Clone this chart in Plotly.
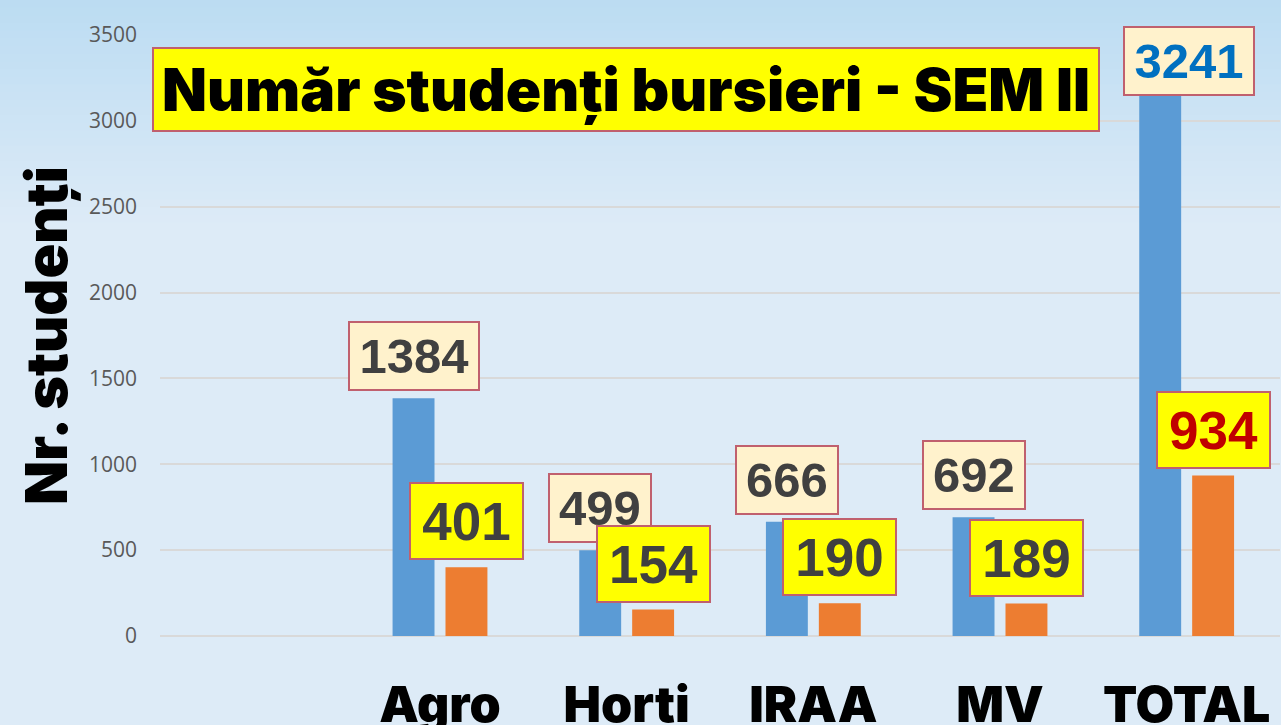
import plotly.graph_objects as go

# ---- data ----
categories = ["Agro", "Horti", "IRAA", "MV", "TOTAL"]
bursieri_total = [1384, 499, 666, 692, 3241]     # blue series
bursieri_sem2 = [401, 154, 190, 189, 934]         # orange series
y_ticks = [0, 500, 1000, 1500, 2000, 2500, 3000, 3500]
title_text = "Număr studenți bursieri - SEM II"
y_title = "Nr. studenți"

# ---- styles ----
W, H = 1281, 725
ML, MR, MT, MB = 160, 1, 35, 89
BLUE = "#5b9bd5"
ORANGE = "#ed7d31"
CREAM = "#fff2cc"
YELLOW = "#ffff00"
BORDER = "#c0606e"
HEAVY = "Arial Black, Inter, Liberation Sans, sans-serif"
BOLD = "Liberation Sans, Arial, sans-serif"

fig = go.Figure()
fig.add_trace(go.Bar(x=categories, y=bursieri_total, marker=dict(color=BLUE, line=dict(width=0)),
                     name="total", hoverinfo="skip"))
fig.add_trace(go.Bar(x=categories, y=bursieri_sem2, marker=dict(color=ORANGE, line=dict(width=0)),
                     name="sem2", hoverinfo="skip"))

# background gradient strips (top region) in paper coords
def py_to_paper(py):
    return (H - MB - py) / (H - MB - MT)

top_c = (0xbc, 0xdc, 0xf2)
bot_c = (0xdd, 0xeb, 0xf7)
n = 30
grad_h = 230
shapes = []
for i in range(n):
    t = i / (n - 1)
    c = tuple(int(round(top_c[k] + (bot_c[k] - top_c[k]) * t)) for k in range(3))
    y0 = i * grad_h / n
    y1 = (i + 1) * grad_h / n + 1
    shapes.append(dict(type="rect", xref="paper", yref="paper", layer="below",
                       x0=-ML / (W - ML - MR), x1=1.01,
                       y0=py_to_paper(y1), y1=py_to_paper(y0),
                       fillcolor="rgb(%d,%d,%d)" % c, line=dict(width=0)))

annotations = []
# title box
annotations.append(dict(text=title_text, xref="paper", yref="paper",
                        x=(626 - ML) / (W - ML - MR), y=py_to_paper(89.5),
                        xanchor="center", yanchor="middle", showarrow=False,
                        font=dict(family=HEAVY, size=58.5, color="black", weight=900),
                        bgcolor=YELLOW, bordercolor=BORDER, borderwidth=2,
                        width=944, height=81, borderpad=0))
# y-axis title
annotations.append(dict(text=y_title, xref="paper", yref="paper",
                        x=(46 - ML) / (W - ML - MR), y=py_to_paper(336),
                        xanchor="center", yanchor="middle", showarrow=False, textangle=-90,
                        font=dict(family=HEAVY, size=57.5, color="black", weight=900)))

# data labels
BAR_OFF = 26.5
for i, (c, v) in enumerate(zip(categories, bursieri_total)):
    is_total = (c == "TOTAL")
    w = 128 if len(str(v)) == 4 else 100
    annotations.append(dict(text="<b>%d</b>" % v, x=c, y=v, xref="x", yref="y",
                            xshift=-BAR_OFF + (29 if is_total else 0),
                            yshift=-17 if is_total else 7,
                            xanchor="center", yanchor="bottom", showarrow=False,
                            font=dict(family=BOLD, size=49, color="#0070c0" if is_total else "#404040"),
                            bgcolor=CREAM, bordercolor=BORDER, borderwidth=2,
                            width=w, height=66, borderpad=0))
for i, (c, v) in enumerate(zip(categories, bursieri_sem2)):
    is_total = (c == "TOTAL")
    annotations.append(dict(text="<b>%d</b>" % v, x=c, y=v, xref="x", yref="y",
                            xshift=BAR_OFF, yshift=7,
                            xanchor="center", yanchor="bottom", showarrow=False,
                            font=dict(family=BOLD, size=53, color="#c00000" if is_total else "#404040"),
                            bgcolor=YELLOW, bordercolor=BORDER, borderwidth=2,
                            width=111, height=74, borderpad=0))

fig.update_layout(
    width=W, height=H,
    margin=dict(l=ML, r=MR, t=MT, b=MB, autoexpand=False),
    paper_bgcolor="#ddebf7",
    plot_bgcolor="rgba(0,0,0,0)",
    barmode="group", bargap=0.433, bargroupgap=0.208,
    showlegend=False,
    shapes=shapes,
    annotations=annotations,
    xaxis=dict(range=[-1.5, 4.5], showgrid=False, zeroline=False, showline=False,
               ticks="", ticklabelstandoff=35, automargin=False,
               tickfont=dict(family=HEAVY, size=50, color="black", weight=900)),
    yaxis=dict(range=[0, 3500], tickvals=y_ticks, showgrid=True, gridcolor="#d9d9d9", gridwidth=2,
               zeroline=True, zerolinecolor="#d9d9d9", zerolinewidth=2, showline=False,
               ticks="", ticklabelstandoff=22, automargin=False,
               tickfont=dict(family="Open Sans, Liberation Sans, sans-serif", size=21, color="#595959")),
)

fig.write_html("out.html", config={"displayModeBar": False},
               post_script="document.body.style.margin='0';document.body.style.overflow='hidden';")
